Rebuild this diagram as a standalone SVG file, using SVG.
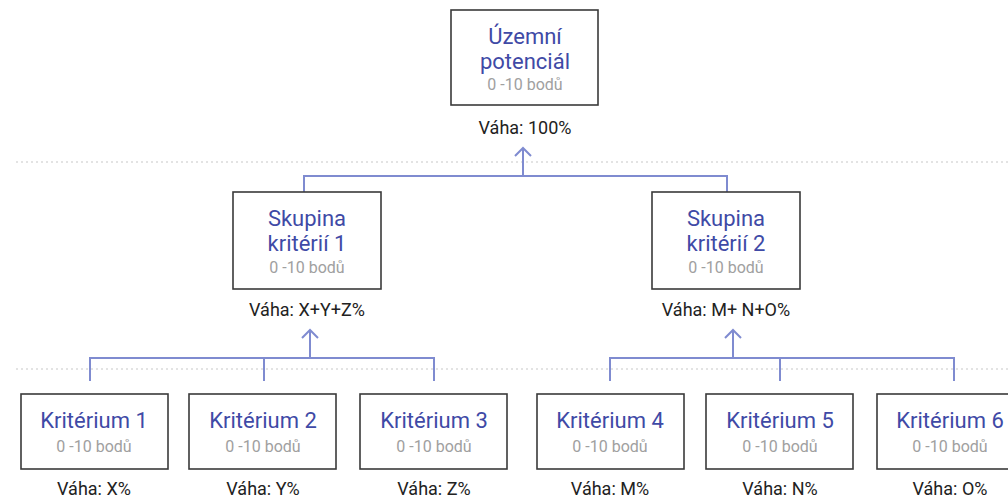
<svg xmlns="http://www.w3.org/2000/svg" width="1008" height="498" viewBox="0 0 1008 498">
<style>
.box{fill:#fff;stroke:#3a3a3a;stroke-width:1.6}
.t{font-family:Roboto,"Liberation Sans",sans-serif;text-anchor:middle}
.title{font-size:22px;fill:#3f4aa6}
.sub{font-size:16px;fill:#a0a0a0}
.w{font-size:18px;fill:#222}
.conn{fill:none;stroke:#7f8bd0;stroke-width:2}
.dot{stroke:#c8c8c8;stroke-width:1.2;stroke-dasharray:2 3}
</style>
<g id="guides">
<line class="dot" x1="16" y1="162" x2="1008" y2="162"/>
<line class="dot" x1="16" y1="369" x2="1008" y2="369"/>
</g>
<g id="connectors">
<path class="conn" d="M304 192V176H727V192"/>
<path class="conn" d="M523 176V148M515 156L523 148L531 156"/>
<path class="conn" d="M90 381V358H434V381M264 358V381"/>
<path class="conn" d="M310 358V330M302 338L310 330L318 338"/>
<path class="conn" d="M610 381V358H954V381M780 358V381"/>
<path class="conn" d="M733 358V330M725 338L733 330L741 338"/>
</g>
<g id="uzemni">
<rect class="box" x="451" y="10" width="147" height="95"/>
<text class="t title" x="525" y="44">Územní</text>
<text class="t title" x="525" y="69">potenciál</text>
<text class="t sub" x="525" y="90">0 -10 bodů</text>
<text class="t w" x="525" y="134">Váha: 100%</text>
</g>
<g id="skupina1">
<rect class="box" x="233" y="192" width="148" height="97"/>
<text class="t title" x="307" y="226">Skupina</text>
<text class="t title" x="307" y="251">kritérií 1</text>
<text class="t sub" x="307" y="273">0 -10 bodů</text>
<text class="t w" x="307" y="316">Váha: X+Y+Z%</text>
</g>
<g id="skupina2">
<rect class="box" x="652" y="192" width="148" height="97"/>
<text class="t title" x="726" y="226">Skupina</text>
<text class="t title" x="726" y="251">kritérií 2</text>
<text class="t sub" x="726" y="273">0 -10 bodů</text>
<text class="t w" x="726" y="316">Váha: M+ N+O%</text>
</g>
<g id="k1">
<rect class="box" x="21" y="394" width="147" height="75"/>
<text class="t title" x="94" y="428">Kritérium 1</text>
<text class="t sub" x="94" y="452">0 -10 bodů</text>
<text class="t w" x="94" y="495">Váha: X%</text>
</g>
<g id="k2">
<rect class="box" x="189" y="394" width="147" height="75"/>
<text class="t title" x="263" y="428">Kritérium 2</text>
<text class="t sub" x="263" y="452">0 -10 bodů</text>
<text class="t w" x="263" y="495">Váha: Y%</text>
</g>
<g id="k3">
<rect class="box" x="360" y="394" width="147" height="75"/>
<text class="t title" x="434" y="428">Kritérium 3</text>
<text class="t sub" x="434" y="452">0 -10 bodů</text>
<text class="t w" x="434" y="495">Váha: Z%</text>
</g>
<g id="k4">
<rect class="box" x="537" y="394" width="147" height="75"/>
<text class="t title" x="610" y="428">Kritérium 4</text>
<text class="t sub" x="610" y="452">0 -10 bodů</text>
<text class="t w" x="610" y="495">Váha: M%</text>
</g>
<g id="k5">
<rect class="box" x="706" y="394" width="147" height="75"/>
<text class="t title" x="780" y="428">Kritérium 5</text>
<text class="t sub" x="780" y="452">0 -10 bodů</text>
<text class="t w" x="780" y="495">Váha: N%</text>
</g>
<g id="k6">
<rect class="box" x="877" y="394" width="147" height="75"/>
<text class="t title" x="950" y="428">Kritérium 6</text>
<text class="t sub" x="950" y="452">0 -10 bodů</text>
<text class="t w" x="950" y="495">Váha: O%</text>
</g>
</svg>
